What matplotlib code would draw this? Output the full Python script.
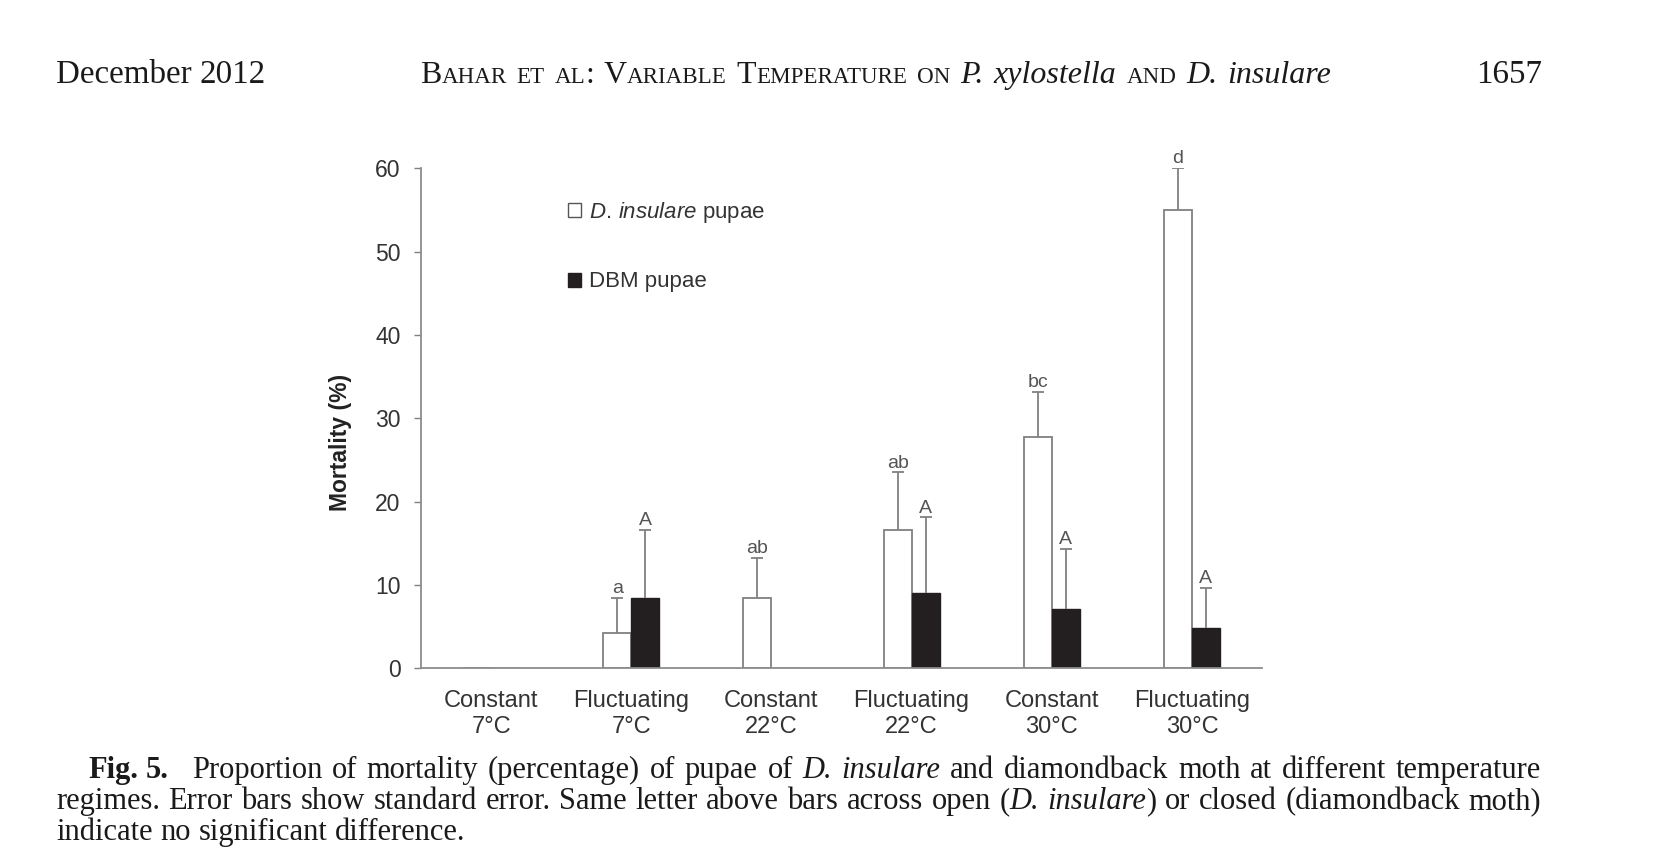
import numpy as np
import matplotlib
matplotlib.use('Agg')
import matplotlib.pyplot as plt
from matplotlib.patches import Patch

# ---------------- data ----------------
categories = ['Constant\n7°C', 'Fluctuating\n7°C', 'Constant\n22°C',
              'Fluctuating\n22°C', 'Constant\n30°C', 'Fluctuating\n30°C']
insulare_mean = [0.0, 4.2, 8.4, 16.6, 27.8, 55.0]
insulare_se = [0.0, 4.2, 4.8, 6.9, 5.4, 5.0]
dbm_mean = [0.0, 8.4, 0.0, 9.0, 7.1, 4.8]
dbm_se = [0.0, 8.2, 0.0, 9.1, 7.2, 4.8]
insulare_letters = ['', 'a', 'ab', 'ab', 'bc', 'd']
dbm_letters = ['', 'A', '', 'A', 'A', 'A']
yticks = [0, 10, 20, 30, 40, 50, 60]
legend_labels = [r'$\mathit{D.\!\ insulare}$ pupae', 'DBM pupae']

plt.rcParams['font.family'] = ['Liberation Sans', 'DejaVu Sans']
plt.rcParams['mathtext.fontset'] = 'custom'
plt.rcParams['mathtext.it'] = 'Liberation Sans:italic'
plt.rcParams['mathtext.rm'] = 'Liberation Sans'

W, H = 1666, 864
fig = plt.figure(figsize=(W / 100, H / 100), dpi=100)
renderer = fig.canvas.get_renderer()

# ---------------- chart ----------------
ax = fig.add_axes([421 / W, 1 - 668.3 / H, 841 / W, 500 / H])
x = np.arange(len(categories))
bw = 0.2
edge = '#808080'
dark = '#231f20'
ax.bar(x - bw / 2, insulare_mean, bw, color='white', edgecolor=edge, linewidth=1.3, zorder=2)
ax.bar(x + bw / 2, dbm_mean, bw, color=dark, edgecolor=dark, linewidth=1.0, zorder=2)

for xs, m, e, letters in [(x - bw / 2, insulare_mean, insulare_se, insulare_letters),
                          (x + bw / 2, dbm_mean, dbm_se, dbm_letters)]:
    m = np.array(m)
    e = np.array(e)
    sel = e > 0
    _, caplines, _ = ax.errorbar(xs[sel], m[sel], yerr=[np.zeros(sel.sum()), e[sel]],
                                 fmt='none', ecolor=edge, elinewidth=1.3,
                                 capsize=4.3, capthick=1.3, zorder=3)
    for cl in caplines:
        if np.allclose(cl.get_ydata(), m[sel]):
            cl.remove()
    for xi, mi, ei, lab in zip(xs, m, e, letters):
        if lab:
            ax.annotate(lab, (xi, mi + ei), xytext=(0, 3.5), textcoords='offset points',
                        ha='center', va='baseline', fontsize=14, color='#555555')

ax.set_xlim(-0.5, len(categories) - 0.5)
ax.set_ylim(0, 60)
ax.set_yticks(yticks)
ax.set_xticks(x)
ax.set_xticklabels(categories, fontsize=17, color='#333333', linespacing=1.25)
ax.tick_params(axis='x', length=0, pad=15.5)
ax.tick_params(axis='y', direction='out', length=5.3, width=1.0, color=edge,
               labelsize=16.5, labelcolor='#333333', pad=9.5)
for s in ['top', 'right']:
    ax.spines[s].set_visible(False)
for s in ['left', 'bottom']:
    ax.spines[s].set_color('#8c8c8c')
    ax.spines[s].set_linewidth(1.3)

handles = [Patch(facecolor='white', edgecolor='#555555', linewidth=1.0),
           Patch(facecolor=dark, edgecolor=dark, linewidth=1.0)]
ax.legend(handles, legend_labels, loc='upper left', bbox_to_anchor=(0.1748, 0.937),
          frameon=False, fontsize=16, handlelength=0.6, handleheight=0.6,
          handletextpad=0.35, labelspacing=2.1, borderpad=0, borderaxespad=0,
          labelcolor='#333333')

fig.text(340.7 / W, 1 - 442.5 / H, 'Mortality (%)', rotation=90, ha='center', va='center',
         fontsize=16.5, fontweight='bold', color='#222222')

# ---------------- header / caption text ----------------
SERIF = 'Liberation Serif'
TXT = '#1a1a1a'


def tw(s, **kw):
    t = fig.text(0, 0, s, family=SERIF, **kw)
    w = t.get_window_extent(renderer).width
    t.remove()
    return w


def word_width(word, size):
    return sum(tw(s, fontsize=size * kw.get('scale', 1.0),
                  **{k: v for k, v in kw.items() if k != 'scale'}) for s, kw in word)


def space_width(size):
    return tw('a a', fontsize=size) - tw('aa', fontsize=size)


def place_word(x, y, word, size):
    for s, kw in word:
        kw = dict(kw)
        sc = kw.pop('scale', 1.0)
        t = fig.text(x / W, 1 - y / H, s, family=SERIF, fontsize=size * sc, ha='left',
                     va='baseline', color=TXT, **kw)
        x += t.get_window_extent(renderer).width
    return x


def place_line(x0, y, words, size, x1=None):
    widths = [word_width(w, size) for w in words]
    if x1 is None or len(words) < 2:
        gap = space_width(size)
    else:
        gap = (x1 - x0 - sum(widths)) / (len(words) - 1)
    x = x0
    for w, wd in zip(words, widths):
        place_word(x, y, w, size)
        x += wd + gap


N = {}
I = {'style': 'italic'}
B = {'weight': 'bold'}
SC = {'scale': 0.72}


def plain(text):
    return [[(w, N)] for w in text.split()]


# header
hsize = 23.8
place_line(56, 83.3, [[('December', N)], [('2012', N)]], hsize)
header_words = [[('B', N), ('AHAR', SC)], [('ET', SC)], [('AL', SC), (':', N)],
                [('V', N), ('ARIABLE', SC)], [('T', N), ('EMPERATURE', SC)], [('ON', SC)],
                [('P.', I)], [('xylostella', I)], [('AND', SC)], [('D.', I)], [('insulare', I)]]
place_line(420, 83.3, header_words, 23.0, 1331)
fig.text(1542 / W, 1 - 83.3 / H, '1657', family=SERIF, fontsize=hsize, ha='right',
         va='baseline', color=TXT)

# caption
line1 = (plain('Proportion of mortality (percentage) of pupae of') + [[('D.', I)], [('insulare', I)]]
         + plain('and diamondback moth at different temperature'))
line2 = (plain('regimes. Error bars show standard error. Same letter above bars across open')
         + [[('(', N), ('D.', I)], [('insulare', I), (')', N)]]
         + plain('or closed (diamondback moth)'))
line3 = plain('indicate no significant difference.')

csize = 22.0
for words, x0 in [(line1, 191.7), (line2, 56)]:
    nat = sum(word_width(w, csize) for w in words) + space_width(csize) * 0.8 * (len(words) - 1)
    if nat > 1541 - x0:
        csize *= (1541 - x0) / nat

place_line(88.3, 778.3, [[('Fig.', B)], [('5.', B)]], csize)
place_line(191.7, 778.3, line1, csize, 1541)
place_line(56, 809, line2, csize, 1541)
place_line(56, 840, line3, csize)

fig.savefig('out.png', dpi=100, facecolor='white')
